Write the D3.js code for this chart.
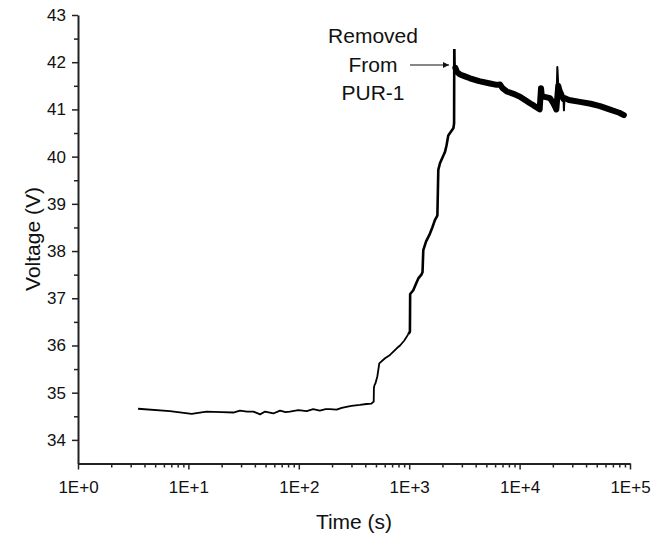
<!DOCTYPE html>
<html>
<head>
<meta charset="utf-8">
<script src="https://cdn.jsdelivr.net/npm/d3@7"></script>
<style>
  body { margin: 0; background: #fff; }
  svg { display: block; font-family: Arial, 'Liberation Sans', sans-serif; }
</style>
</head>
<body>
<svg width="670" height="535"></svg>
<script>
(function () {
    'use strict';

    // time (s) and voltage (V)
    var timeS = [
        3.5, 6.8, 10.7, 14.6, 20, 25.5, 29.3, 34, 38.8, 44.6, 49.5, 58.8, 67.6, 76, 83, 99,
        118, 135, 155, 175, 191, 220, 245, 270, 300, 358, 410, 455, 477,
        479, 485, 495, 515, 536, 604, 670, 771, 826, 900, 982, 1015,
        1020, 1089, 1150, 1210, 1290, 1320, 1342, 1420, 1542, 1620, 1713, 1790,
        1800, 1835, 1900, 2036, 2110, 2180, 2260, 2342, 2511, 2550,
        2560, 2580, 2620, 2700, 2885, 3200, 3555, 4300, 5395, 6200, 6640, 7000, 7640,
        8800, 10080, 11200, 12420, 13500, 14790, 15200, 15630, 15900, 16500, 18850,
        20000, 20930, 21500, 21970, 22400, 23000, 24000, 25000, 25200, 25500, 28000,
        35200, 44000, 53500, 65000, 80000, 88000
    ];
    var voltage = [
        34.66, 34.61, 34.55, 34.60, 34.59, 34.58, 34.62, 34.60, 34.60, 34.54, 34.60, 34.56, 34.62, 34.59, 34.60, 34.63,
        34.61, 34.65, 34.62, 34.65, 34.65, 34.64, 34.68, 34.70, 34.72, 34.74, 34.76, 34.77, 34.81,
        35.10, 35.16, 35.20, 35.35, 35.62, 35.73, 35.80, 35.94, 36.00, 36.10, 36.24, 36.29,
        37.09, 37.17, 37.30, 37.42, 37.50, 37.55, 38.02, 38.20, 38.37, 38.50, 38.66, 38.74,
        38.76, 39.72, 39.86, 40.02, 40.10, 40.24, 40.45, 40.50, 40.60, 40.70,
        42.28, 41.98, 41.88, 41.80, 41.74, 41.70, 41.66, 41.60, 41.55, 41.52, 41.53, 41.45, 41.38,
        41.33, 41.27, 41.20, 41.13, 41.08, 41.02, 41.00, 41.45, 41.28, 41.27, 41.24,
        41.15, 41.06, 41.00, 41.90, 41.50, 41.40, 41.30, 41.22, 40.98, 41.24, 41.20,
        41.16, 41.12, 41.07, 41.00, 40.93, 40.88
    ];

    var xMajor = [1, 10, 100, 1000, 10000, 100000];
    var yMajor = [34, 35, 36, 37, 38, 39, 40, 41, 42, 43];
    var noteLines = ['Removed', 'From', 'PUR-1'];

    var svg = d3.select('svg');

    var x = d3.scaleLog().domain([1, 100000]).range([78, 630]);
    var y = d3.scaleLinear().domain([33.5, 43]).range([463.5, 15]);

    var xMinor = [];
    xMajor.slice(0, -1).forEach(function (d) {
        for (var k = 2; k <= 9; k++) xMinor.push(d * k);
    });
    var yMinor = yMajor.slice(0, -1).map(function (d) { return d + 0.5; });

    // minor ticks first, then main axes on top
    svg.append('g')
        .attr('transform', 'translate(0,' + y.range()[0] + ')')
        .call(d3.axisBottom(x).tickValues(xMinor).tickSize(4).tickFormat(''))
        .call(function (g) { g.select('.domain').remove(); });
    svg.append('g')
        .attr('transform', 'translate(' + x.range()[0] + ',0)')
        .call(d3.axisLeft(y).tickValues(yMinor).tickSize(4).tickFormat(''))
        .call(function (g) { g.select('.domain').remove(); });

    svg.append('g')
        .attr('transform', 'translate(0,' + y.range()[0] + ')')
        .call(d3.axisBottom(x)
            .tickValues(xMajor)
            .tickSize(6)
            .tickSizeOuter(0)
            .tickPadding(11)
            .tickFormat(function (d) { return '1E+' + Math.round(Math.log10(d)); }));
    svg.append('g')
        .attr('transform', 'translate(' + x.range()[0] + ',0)')
        .call(d3.axisLeft(y)
            .tickValues(yMajor)
            .tickSize(6)
            .tickSizeOuter(0)
            .tickPadding(6));

    svg.selectAll('.tick line').attr('stroke', '#222').attr('stroke-width', 1.5);
    svg.selectAll('.domain').attr('stroke', '#222').attr('stroke-width', 2);
    svg.selectAll('.tick text')
        .attr('font-family', 'Arial, "Liberation Sans", sans-serif')
        .attr('font-size', 17)
        .attr('fill', '#111');

    svg.append('text')
        .attr('x', 354)
        .attr('y', 529)
        .attr('text-anchor', 'middle')
        .attr('font-size', 21)
        .attr('fill', '#111')
        .text('Time (s)');
    svg.append('text')
        .attr('transform', 'translate(40,239) rotate(-90)')
        .attr('text-anchor', 'middle')
        .attr('font-size', 21)
        .attr('fill', '#111')
        .text('Voltage (V)');

    var pts = timeS.map(function (t, i) { return [t, voltage[i]]; });
    var line = d3.line()
        .x(function (d) { return x(d[0]); })
        .y(function (d) { return y(d[1]); });

    svg.append('path')
        .attr('d', line(pts.filter(function (d) { return d[0] < 1000; })))
        .attr('fill', 'none')
        .attr('stroke', '#000')
        .attr('stroke-width', 1.8)
        .attr('stroke-linejoin', 'round');
    svg.append('path')
        .attr('d', line(pts.filter(function (d) { return d[0] >= 982 && d[0] <= 2560; })))
        .attr('fill', 'none')
        .attr('stroke', '#000')
        .attr('stroke-width', 2.6)
        .attr('stroke-linejoin', 'round');
    svg.append('path')
        .attr('d', line(pts.filter(function (d) { return d[0] >= 2560; })))
        .attr('fill', 'none')
        .attr('stroke', '#000')
        .attr('stroke-width', 2)
        .attr('stroke-linejoin', 'round');

    // noisy band after removal, leaving the short spikes thin
    var late = pts.filter(function (d) { return d[0] >= 2620; });
    var band = late.filter(function (d, i) {
        var a = late[i - 1], b = late[i + 1];
        if (!a || !b) return true;
        return !(Math.abs(d[1] - a[1]) > 0.2 && Math.abs(d[1] - b[1]) > 0.2);
    });
    svg.append('path')
        .attr('d', line(band))
        .attr('fill', 'none')
        .attr('stroke', '#000')
        .attr('stroke-width', 6)
        .attr('stroke-linejoin', 'round')
        .attr('stroke-linecap', 'round');

    // annotation
    svg.append('defs').append('marker')
        .attr('id', 'head')
        .attr('viewBox', '0 0 10 10')
        .attr('refX', 10)
        .attr('refY', 5)
        .attr('markerWidth', 10)
        .attr('markerHeight', 6)
        .attr('markerUnits', 'userSpaceOnUse')
        .attr('orient', 'auto')
        .append('path')
        .attr('d', 'M0,0L10,5L0,10Z')
        .attr('fill', '#111');

    svg.append('line')
        .attr('x1', 410).attr('y1', 65)
        .attr('x2', 449).attr('y2', 65)
        .attr('stroke', '#111')
        .attr('stroke-width', 1.2)
        .attr('marker-end', 'url(#head)');

    svg.append('g').selectAll('text')
        .data(noteLines)
        .join('text')
        .attr('x', 373)
        .attr('y', function (d, i) { return 43 + i * 28.5; })
        .attr('text-anchor', 'middle')
        .attr('font-size', 21)
        .attr('fill', '#111')
        .text(function (d) { return d; });

}());
</script>
</body>
</html>
